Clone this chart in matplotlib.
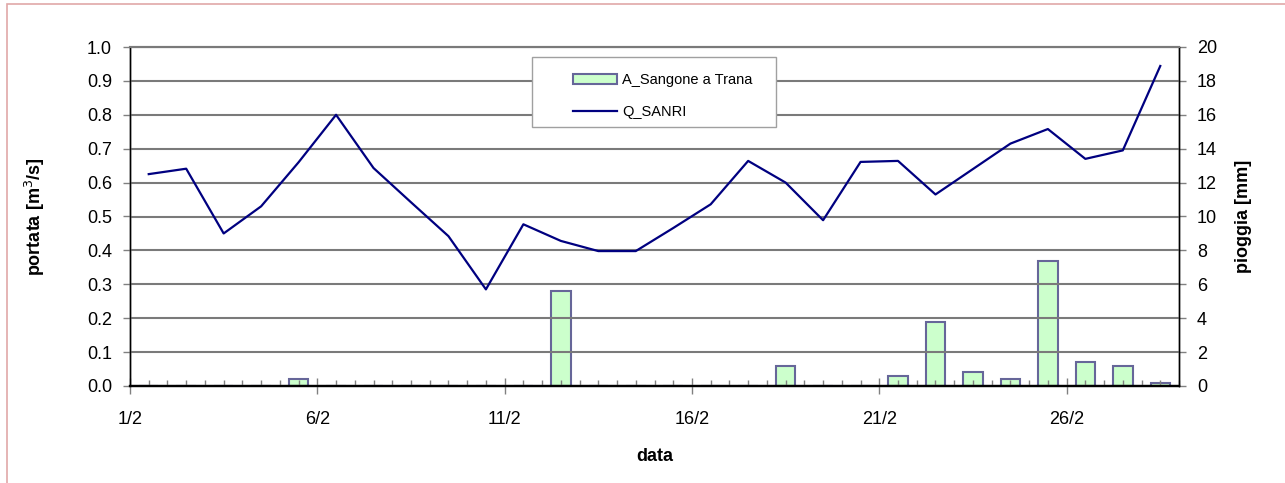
import numpy as np
import matplotlib
matplotlib.use('Agg')
import matplotlib.pyplot as plt
from matplotlib.patches import Rectangle
from matplotlib.ticker import MultipleLocator, FixedLocator

plt.rcParams['font.family'] = ['Liberation Sans', 'DejaVu Sans']

# giorni di febbraio
days = np.arange(1, 29)

# portata Q_SANRI [m3/s]
portata = [0.625, 0.641, 0.450, 0.530, 0.660, 0.800, 0.643, 0.542, 0.442, 0.285,
           0.477, 0.428, 0.398, 0.398, 0.466, 0.536, 0.664, 0.600, 0.489, 0.661,
           0.664, 0.565, 0.640, 0.715, 0.758, 0.670, 0.695, 0.944]

# pioggia A_Sangone a Trana [mm]
pioggia = [0, 0, 0, 0, 0.4, 0, 0, 0, 0, 0,
           0, 5.6, 0, 0, 0, 0, 0, 1.2, 0, 0,
           0.6, 3.8, 0.8, 0.4, 7.4, 1.4, 1.2, 0.2]

tick_days = [1, 6, 11, 16, 21, 26]
tick_labels = ['%d/2' % d for d in tick_days]

W, H = 1285, 483
fig = plt.figure(figsize=(W / 100, H / 100), dpi=100)
ax = fig.add_axes([130 / W, 1 - 386 / H, 1049 / W, 339 / H])
ax2 = ax.twinx()

# griglia
grid_col = '#7a7a7a'
for v in np.arange(0.1, 1.01, 0.1):
    ax.axhline(v, color=grid_col, lw=1.5, zorder=0.5)

xc = days + 0.5
bars = ax2.bar(xc, pioggia, width=0.52, color='#CCFFCC', edgecolor='#666699',
               linewidth=1.5, zorder=2, label='A_Sangone a Trana')
line, = ax.plot(xc, portata, color='#000080', lw=1.6, zorder=3, label='Q_SANRI')

ax.set_zorder(ax2.get_zorder() + 1)
ax.patch.set_visible(False)

ax.set_xlim(1, 29)
ax.set_ylim(0, 1.0)
ax2.set_ylim(0, 20)
ax.yaxis.set_major_locator(MultipleLocator(0.1))
ax2.yaxis.set_major_locator(MultipleLocator(2))
ax.yaxis.set_major_formatter(matplotlib.ticker.FormatStrFormatter('%.1f'))

ax.xaxis.set_major_locator(FixedLocator(tick_days))
ax.set_xticklabels(tick_labels)
ax.xaxis.set_minor_locator(MultipleLocator(0.5))

ax.tick_params(axis='x', which='major', direction='inout', length=12, width=1,
               color='#808080', labelsize=13, pad=12)
ax.tick_params(axis='x', which='minor', direction='in', length=4, width=1, color='#808080')
ax.tick_params(axis='y', direction='out', length=5, width=1, color='#808080',
               labelsize=13, pad=8)
ax2.tick_params(axis='y', direction='out', length=5, width=1, color='#808080',
                labelsize=13, pad=8)

for a in (ax, ax2):
    a.spines['top'].set_color(grid_col)
    a.spines['top'].set_linewidth(1.5)
    a.spines['left'].set_linewidth(1.0)
    a.spines['right'].set_linewidth(1.0)
    a.spines['bottom'].set_linewidth(1.6)

ax.set_ylabel('portata [m$^3$/s]', fontsize=13, fontweight='bold')
ax.yaxis.set_label_coords(-0.079, 0.5)
ax2.set_ylabel('pioggia [mm]', fontsize=13, fontweight='bold')
ax2.yaxis.set_label_coords(1.053, 0.5)
ax.set_xlabel('data', fontsize=13, fontweight='bold')
ax.xaxis.set_label_coords(0.5, -0.183)

# legenda
ax.add_patch(Rectangle((532 / W, 1 - 127 / H), 244 / W, 70 / H, transform=fig.transFigure,
                       facecolor='white', edgecolor='#A0A0A0', lw=1, zorder=4, clip_on=False))
leg = ax.legend([bars, line], ['A_Sangone a Trana', 'Q_SANRI'], loc='upper left',
                bbox_to_anchor=(566 / W, 1 - 66 / H), bbox_transform=fig.transFigure,
                frameon=False, fontsize=10.5, borderpad=0, handlelength=3.0,
                handletextpad=0.35, labelspacing=1.2)
leg.set_zorder(5)

# bordo
fig.patches.append(Rectangle((7 / W, -0.1), 1.2, 1 - 4 / H + 0.1, transform=fig.transFigure,
                             facecolor='none', edgecolor='#E0A8A8', lw=1.2))

fig.savefig('out.png', dpi=100)
